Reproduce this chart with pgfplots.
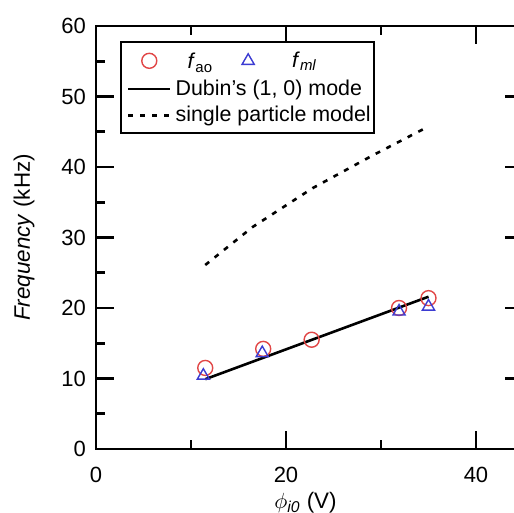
\documentclass[border=0pt]{standalone}
\usepackage{pgfplots}
\pgfplotsset{compat=1.18}
\usepackage{fontspec}
\setmainfont{Liberation Sans}
\usetikzlibrary{calc}

\definecolor{aored}{RGB}{225,70,70}
\definecolor{mlblue}{RGB}{60,60,210}

\begin{document}
\begin{tikzpicture}
\begin{axis}[
  scale only axis, width=213.75pt, height=211.5pt,
  xmin=0, xmax=45, ymin=0, ymax=60,
  xtick={0,20,40}, ytick={0,10,...,60},
  minor xtick={10,30}, minor ytick={5,15,...,55},
  tick align=inside, tick pos=both,
  xticklabel pos=lower, yticklabel pos=left,
  major tick length=9pt, minor tick length=4.5pt,
  axis line style={line width=1.3pt},
  every tick/.style={line width=1.3pt, black},
  /pgf/number format/assume math mode=true,
  tick label style={font=\fontsize{11}{13}\selectfont},
  xticklabel style={yshift=-5.5pt},
  yticklabel style={xshift=-1.5pt},
  xlabel={$\phi_{\mathit{i0}}$ (V)},
  ylabel={\textit{Frequency} (kHz)},
  label style={font=\fontsize{11.2}{13}\selectfont},
  xlabel style={at={(axis description cs:0.49,-0.14)}, anchor=base},
  ylabel style={at={(axis description cs:-0.168,0.5)}, anchor=center},
  legend columns=2,
  legend cell align=left,
  legend style={at={(0.056,0.965)}, anchor=north west, draw=black,
    line width=1pt, font=\fontsize{10.7}{12.5}\selectfont,
    /tikz/column 2/.style={column sep=5pt},
    /tikz/column 3/.style={column sep=17pt}},
  legend image code/.code={\draw[mark repeat=2,mark phase=2]
    plot coordinates {(0cm,0cm) (0.37cm,0cm) (0.74cm,0cm)};},
]
\addplot[only marks, mark=o, mark size=3.75pt, aored, line width=0.7pt]
  coordinates {(11.5,11.5) (17.6,14.2) (22.7,15.5) (31.9,20.0) (35.0,21.4)};
\addlegendentry{\rule[-6pt]{0pt}{15.5pt}\hspace*{6pt}\textit{f}\textsubscript{ao}}
\addplot[only marks, mark=triangle, mark size=3.5pt, mlblue, line width=0.7pt]
  coordinates {(11.3,10.4) (17.5,13.6) (31.9,19.5) (35.0,20.2)};
\addlegendentry{\makebox[36pt][l]{\textit{f}\textsubscript{\textit{ml}}}}
\addplot[black, line width=1.3pt]
  coordinates {(11.5,9.9) (35.0,21.6)};
\addlegendentry{\makebox[0pt][l]{Dubin's (1, 0) mode}}
\addlegendimage{empty legend}\addlegendentry{}
\addplot[black, line width=1.3pt, dash pattern=on 2.5pt off 3.5pt]
  coordinates {(11.5,26.1) (16.5,31.5) (22.8,37.0) (29.2,41.7) (34.5,45.4)};
\addlegendentry{\makebox[0pt][l]{single particle model}}
\addlegendimage{empty legend}\addlegendentry{}
\end{axis}
\pgfresetboundingbox
\path ($(current axis.south west)+(-48pt,-32pt)$) rectangle ($(current axis.south west)+(209pt,224.5pt)$);
\end{tikzpicture}
\end{document}
